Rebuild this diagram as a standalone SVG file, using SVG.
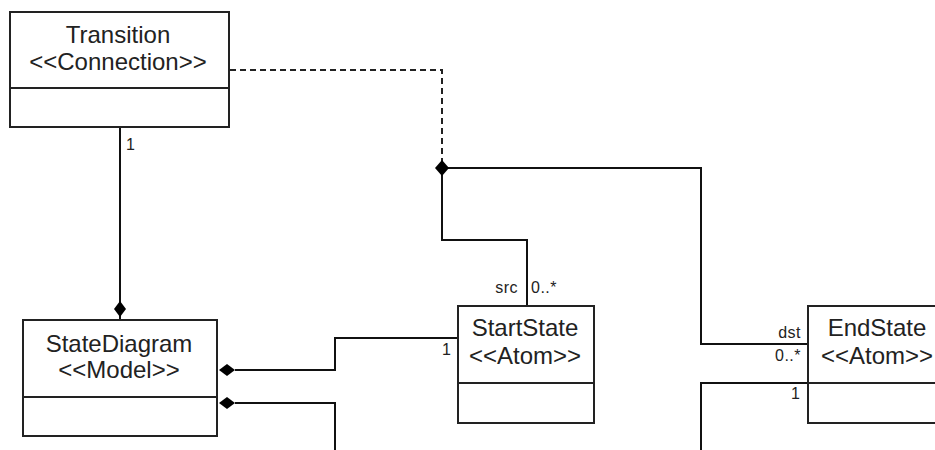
<svg xmlns="http://www.w3.org/2000/svg" width="935" height="450" viewBox="0 0 935 450">
<style>
.box{fill:#fff;stroke:#222;stroke-width:2}
.div{stroke:#222;stroke-width:2}
.name{font-family:"Liberation Sans",Arial,sans-serif;font-size:24px;fill:#222;text-anchor:middle}
.lbl{font-family:"Liberation Sans",Arial,sans-serif;font-size:16px;fill:#222;letter-spacing:0.5px}
.ln{fill:none;stroke:#111;stroke-width:2}
.dash{fill:none;stroke:#222;stroke-width:2;stroke-dasharray:6,4}
.dia{fill:#000;stroke:none}
</style>
<rect width="935" height="450" fill="#fff"/>
<g id="connectors">
  <polyline class="dash" points="230,70 442,70 442,162"/>
  <polyline class="ln" points="442,168 701,168 701,344 808,344"/>
  <polyline class="ln" points="442,168 442,240 527,240 527,306"/>
  <polyline class="ln" points="120,127 120,320"/>
  <polyline class="ln" points="235,370 335,370 335,338 458,338"/>
  <polyline class="ln" points="235,403 335,403 335,450"/>
  <polyline class="ln" points="808,383 701,383 701,450"/>
  <polygon class="dia" points="442,160 449,168 442,176 435,168"/>
  <polygon class="dia" points="120,301 126,309 120,317 114,309"/>
  <polygon class="dia" points="219,370 227,364 235,370 227,376"/>
  <polygon class="dia" points="219,403 227,397 235,403 227,409"/>
  <text class="lbl" x="126" y="150">1</text>
  <text class="lbl" x="518" y="293" text-anchor="end">src</text>
  <text class="lbl" x="531" y="293">0..*</text>
  <text class="lbl" x="442" y="355">1</text>
  <text class="lbl" x="801" y="338" text-anchor="end">dst</text>
  <text class="lbl" x="801" y="361" text-anchor="end">0..*</text>
  <text class="lbl" x="791" y="399">1</text>
</g>
<g id="transition">
  <rect class="box" x="10" y="12" width="219" height="115"/>
  <line class="div" x1="10" y1="88" x2="229" y2="88"/>
  <text class="name" x="118" y="43">Transition</text>
  <text class="name" x="118" y="70">&lt;&lt;Connection&gt;&gt;</text>
</g>
<g id="statediagram">
  <rect class="box" x="23" y="320" width="194" height="116"/>
  <line class="div" x1="23" y1="397" x2="217" y2="397"/>
  <text class="name" x="119" y="352">StateDiagram</text>
  <text class="name" x="119" y="378">&lt;&lt;Model&gt;&gt;</text>
</g>
<g id="startstate">
  <rect class="box" x="458" y="306" width="136" height="117"/>
  <line class="div" x1="458" y1="383" x2="594" y2="383"/>
  <text class="name" x="525" y="336">StartState</text>
  <text class="name" x="525" y="364">&lt;&lt;Atom&gt;&gt;</text>
</g>
<g id="endstate">
  <rect class="box" x="808" y="306" width="140" height="117"/>
  <line class="div" x1="808" y1="383" x2="948" y2="383"/>
  <text class="name" x="877" y="336">EndState</text>
  <text class="name" x="877" y="364">&lt;&lt;Atom&gt;&gt;</text>
</g>
</svg>
